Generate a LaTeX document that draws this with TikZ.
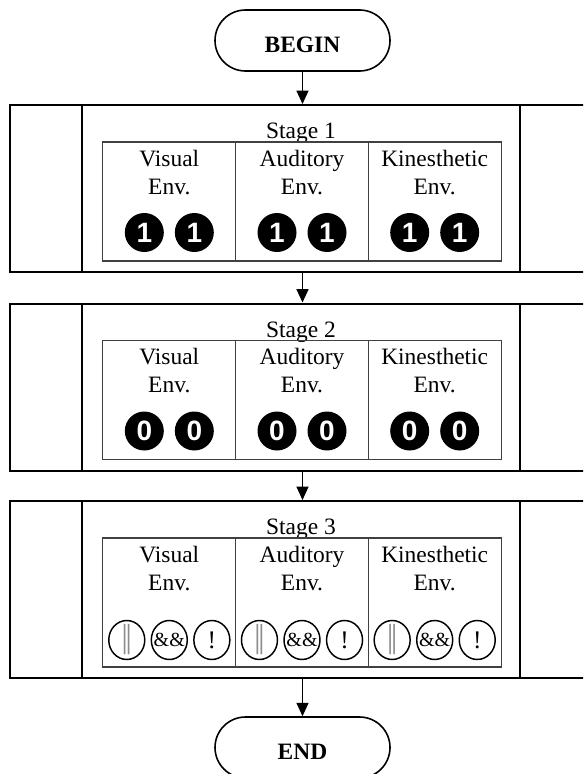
\documentclass[tikz,border=0pt]{standalone}
\usepackage{fontspec}
\setmainfont{Liberation Serif}
\newfontfamily\digitfont{Liberation Sans}
\usetikzlibrary{shapes.misc,shapes.geometric,arrows.meta}

\begin{document}
\begin{tikzpicture}[x=0.75pt,y=-0.75pt,
  term/.style={draw, line width=1.2pt, rounded rectangle, minimum width=131.25pt,
    minimum height=45.75pt, inner sep=0, text height=17.5pt, text depth=0pt,
    font=\fontsize{17.6pt}{20pt}\selectfont\bfseries},
  stagebox/.style={draw, line width=1.5pt, minimum width=436.5pt, inner sep=0},
  procline/.style={line width=1.6pt},
  cell/.style={draw=black!75, line width=0.9pt, minimum width=99.75pt, inner sep=0},
  lbl/.style={anchor=base, inner sep=0, font=\fontsize{17.6pt}{20pt}\selectfont},
  dot/.style={circle, fill=black, minimum size=29.25pt, inner sep=0, text=white,
    font=\digitfont\bfseries\fontsize{21pt}{21pt}\selectfont},
  ring/.style={ellipse, draw, line width=1.1pt, minimum width=27pt,
    minimum height=29.25pt, inner sep=0},
  ringtxt/.style={inner sep=0},
  flow/.style={line width=0.9pt, -{Triangle[length=10pt,width=9pt]}}
]
\useasboundingbox (0,0) rectangle (583,774);
\clip (0,0) rectangle (583,774);

% terminators
\node[term] (begin) at (302.5,40.5) {BEGIN};
\node[term] (end) at (302.5,747.5) {END};

% stage 1 and stage 2: predefined-process frames with three environment cells
\foreach \s/\dy/\d in {1/0/1, 2/198.5/0} {
  \begin{scope}[shift={(0,\dy)}]
    \node[stagebox, minimum height=125.25pt] (s\s) at (301,188.5) {};
    \draw[procline] ([xshift=54.75pt]s\s.north west) -- ([xshift=54.75pt]s\s.south west);
    \draw[procline] ([xshift=-54.75pt]s\s.north east) -- ([xshift=-54.75pt]s\s.south east);
    \node[lbl] (s\s title) at (301,138.5) {Stage \s};
    \foreach \c/\cx/\word in {v/169.3/Visual, a/302/Auditory, k/434.7/Kinesthetic} {
      \node[cell, minimum height=89.25pt] (s\s\c) at (\cx,201.5) {};
      \node[lbl] (s\s\c1) at (\cx,166) {\word};
      \node[lbl] (s\s\c2) at (\cx,194) {Env.};
      \node[dot] (s\s\c d1) at ([xshift=-18.75pt]s\s\c.center |- 0,232.5) {\d};
      \node[dot] (s\s\c d2) at ([xshift=18.75pt]s\s\c.center |- 0,232.5) {\d};
    }
  \end{scope}
}

% stage 3: operator rings
\node[stagebox, minimum height=132.75pt] (s3) at (301,589.5) {};
\draw[procline] ([xshift=54.75pt]s3.north west) -- ([xshift=54.75pt]s3.south west);
\draw[procline] ([xshift=-54.75pt]s3.north east) -- ([xshift=-54.75pt]s3.south east);
\node[lbl] (s3title) at (301,534.5) {Stage 3};
\foreach \c/\cx/\word in {v/169.3/Visual, a/302/Auditory, k/434.7/Kinesthetic} {
  \node[cell, minimum height=96.75pt] (s3\c) at (\cx,602.5) {};
  \node[lbl] (s3\c1) at (\cx,562) {\word};
  \node[lbl] (s3\c2) at (\cx,590) {Env.};
  \node[ring] (s3\c r1) at ([xshift=-31.9pt]s3\c.center |- 0,640) {};
  \node[ring] (s3\c r2) at (s3\c.center |- 0,640) {};
  \node[ring] (s3\c r3) at ([xshift=31.9pt]s3\c.center |- 0,640) {};
  \node[ringtxt, text=black!45, font=\fontsize{25pt}{25pt}\selectfont] at (s3\c r1) {|\kern-2pt|};
  \node[ringtxt, font=\fontsize{15pt}{15pt}\selectfont] at (s3\c r2) {\&\&};
  \node[ringtxt, font=\fontsize{19pt}{19pt}\selectfont] at (s3\c r3) {!};
}

% connectors
\draw[flow] (begin.south) -- (begin.south |- s1.north);
\draw[flow] (s1.south -| begin) -- (begin |- s2.north);
\draw[flow] (s2.south -| begin) -- (begin |- s3.north);
\draw[flow] (s3.south -| begin) -- (end.north);
\end{tikzpicture}
\end{document}
